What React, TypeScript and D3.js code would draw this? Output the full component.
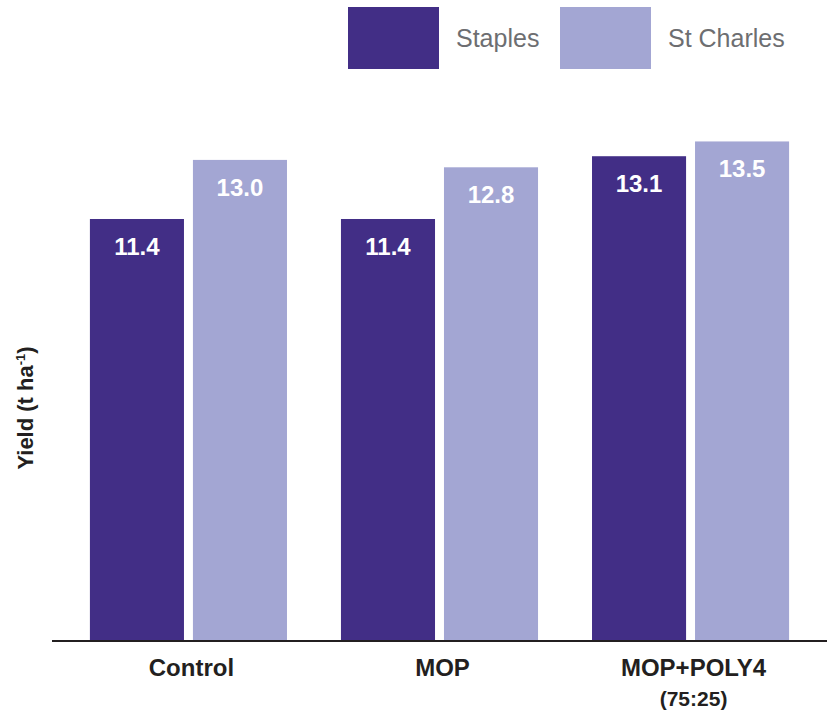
import React from "react";
import * as d3 from "d3";

const categories = ["Control", "MOP", "MOP+POLY4"];
const categorySubLabels = ["", "", "(75:25)"];
const seriesNames = ["Staples", "St Charles"];
const staplesValues = [11.4, 11.4, 13.1];
const stCharlesValues = [13.0, 12.8, 13.5];
const seriesColors = ["#422e86", "#a3a6d3"];

const W = 838;
const H = 713;
const FONT = "'Liberation Sans', Arial, Helvetica, sans-serif";

export default function App() {
  const values = [staplesValues, stCharlesValues];
  const baseY = 640;
  const x0 = d3
    .scaleBand<string>()
    .domain(categories)
    .range([52, 827])
    .paddingInner(0.215)
    .paddingOuter(0.151);
  const x1 = d3
    .scaleBand<string>()
    .domain(seriesNames)
    .range([0, x0.bandwidth()])
    .paddingInner(0.087);
  const y = d3.scaleLinear().domain([0, 14]).range([baseY, baseY - 14 * 36.93]);

  return (
    <svg
      width={W}
      height={H}
      style={{ position: "absolute", left: 0, top: 0, display: "block" }}
      fontFamily={FONT}
    >
      <rect width={W} height={H} fill="#ffffff" />
      {/* legend */}
      {seriesNames.map((s, i) => (
        <g key={s} transform={`translate(${348 + i * 212},0)`}>
          <rect x={0} y={7} width={91} height={62} fill={seriesColors[i]} />
          <text x={108} y={47} fontSize={25} fill="#6d6e71">
            {s}
          </text>
        </g>
      ))}
      {/* bars */}
      {categories.map((c, ci) => (
        <g key={c} transform={`translate(${x0(c)},0)`}>
          {seriesNames.map((s, si) => {
            const v = values[si][ci];
            const bx = x1(s) as number;
            const bw = x1.bandwidth();
            return (
              <g key={s}>
                <rect x={bx} y={y(v)} width={bw} height={baseY - y(v)} fill={seriesColors[si]} />
                <text
                  x={bx + bw / 2}
                  y={y(v) + 36}
                  textAnchor="middle"
                  fontSize={24}
                  fontWeight="bold"
                  fill="#ffffff"
                >
                  {v.toFixed(1)}
                </text>
              </g>
            );
          })}
        </g>
      ))}
      {/* axis */}
      <line x1={52} x2={827} y1={baseY + 1} y2={baseY + 1} stroke="#231f20" strokeWidth={2} />
      {categories.map((c, ci) => {
        const cx = (x0(c) as number) + x0.bandwidth() / 2 + 3;
        return (
          <g key={c}>
            <text x={cx} y={676} textAnchor="middle" fontSize={24} fontWeight="bold" fill="#231f20">
              {c}
            </text>
            {categorySubLabels[ci] && (
              <text x={cx} y={706} textAnchor="middle" fontSize={21} fontWeight="bold" fill="#231f20">
                {categorySubLabels[ci]}
              </text>
            )}
          </g>
        );
      })}
      {/* y title */}
      <text
        transform="rotate(-90)"
        x={-408}
        y={33}
        textAnchor="middle"
        fontSize={22}
        fontWeight="bold"
        fill="#231f20"
      >
        Yield (t ha
        <tspan dy={-8} fontSize={13}>-1</tspan>
        <tspan dy={8}>)</tspan>
      </text>
    </svg>
  );
}
